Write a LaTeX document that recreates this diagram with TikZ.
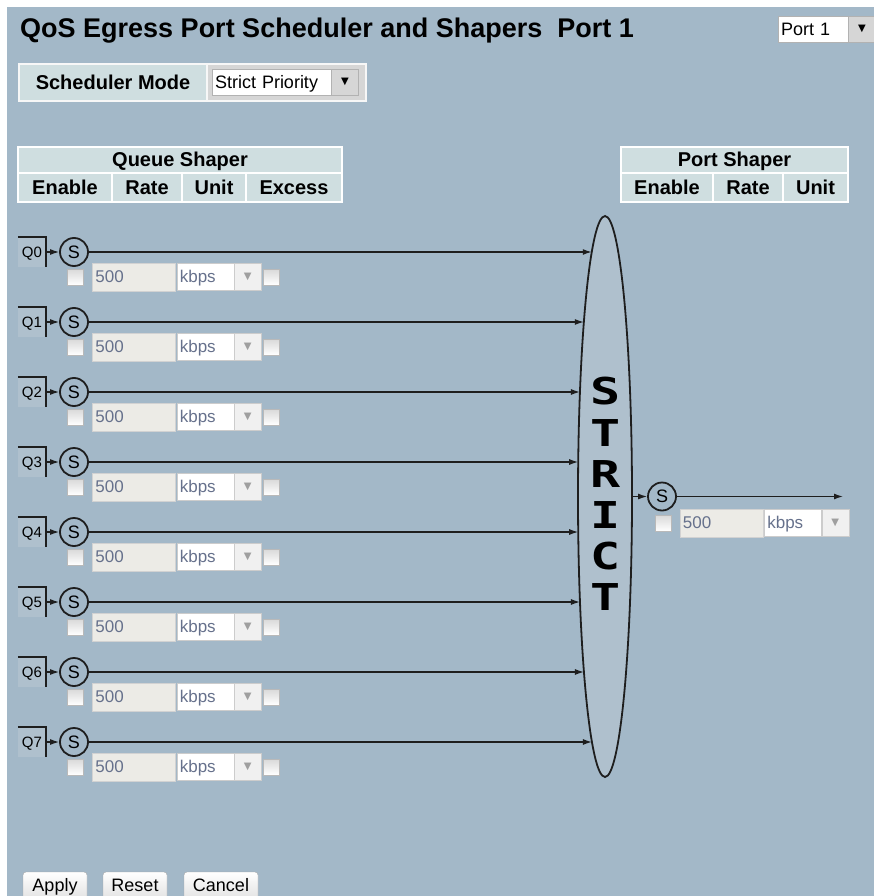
\documentclass[tikz,border=0pt]{standalone}
\usepackage{graphicx}
\usepackage{fontspec}
\setmainfont{Liberation Sans}
\newfontfamily\symfont{DejaVu Sans}
\newfontfamily\strictfont{DejaVu Sans Mono}
\usetikzlibrary{shapes.geometric}
\usetikzlibrary{arrows.meta}
\usetikzlibrary{positioning}

\definecolor{pagebg}{HTML}{A3B8C8}
\definecolor{ellfill}{HTML}{AFC0CD}
\definecolor{cellbg}{HTML}{CFDEE0}
\definecolor{selcell}{HTML}{D6D6D6}
\definecolor{ratefill}{HTML}{ECEBE6}
\definecolor{dimtext}{HTML}{66718C}
\definecolor{wire}{HTML}{1E1E1E}

\begin{document}
\begin{tikzpicture}[
    x=1pt, y=-1pt,
    font=\fontsize{17}{20}\selectfont,
    >={Latex[length=9pt,width=6pt]}
]
\tikzset{
    headtext/.style = {anchor=base, font=\fontsize{20}{24}\selectfont\bfseries},
    cellrule/.style = {draw=white, line width=1.5pt},
    qbox/.style = {rectangle, fill=ellfill, minimum width=28pt, minimum height=30pt, inner sep=0pt, text height=11pt, text depth=0pt, font=\fontsize{15}{18}\selectfont},
    qedge/.style = {draw=wire, line width=1.6pt},
    shaper/.style = {circle, draw=wire, line width=1.8pt, minimum size=28pt, inner sep=0pt, font=\fontsize{18}{20}\selectfont},
    smallarrow/.style = {->, draw=wire, line width=1.2pt},
    qarrow/.style = {->, draw=wire, line width=1.3pt},
    schedell/.style = {ellipse, draw=wire, line width=1.8pt, fill=ellfill, minimum width=54pt, minimum height=561pt, inner sep=0pt},
    strictletter/.style = {font=\strictfont\bfseries\fontsize{37}{37}\selectfont, inner sep=0pt},
    chkbox/.style = {rectangle, draw=gray!55, top color=gray!30, bottom color=white, minimum size=16pt, inner sep=0pt},
    ratebox/.style = {rectangle, draw=gray!35, fill=ratefill, minimum height=28pt, text width=77pt, inner sep=3pt, text height=13pt, text depth=2pt, align=left, text=dimtext},
    unitbox/.style = {rectangle, draw=gray!40, fill=white, minimum height=27pt, text width=51pt, inner sep=3pt, text height=13pt, text depth=2pt, align=left, text=dimtext},
    dropbtn/.style = {rectangle, draw=gray!40, fill=gray!12, minimum width=27pt, minimum height=27pt, inner sep=0pt, text=gray!75, font=\symfont\fontsize{10}{10}\selectfont},
    selbox/.style = {rectangle, draw=gray!60, fill=white, minimum height=26pt, inner sep=3pt, text height=15pt, text depth=2pt, align=left, font=\fontsize{18}{20}\selectfont},
    selbtn/.style = {rectangle, draw=gray!60, fill=selcell, minimum width=27pt, minimum height=26pt, inner sep=0pt, font=\symfont\fontsize{10}{10}\selectfont},
    button/.style = {rectangle, rounded corners=3pt, draw=gray!70, top color=white, bottom color=gray!25, minimum height=30pt, text height=13pt, text depth=4pt, inner sep=0pt, font=\fontsize{18}{20}\selectfont}
}
\useasboundingbox (0,0) rectangle (874,896);
\fill[white] (0,0) rectangle (874,896);
\fill[pagebg] (7,7) rectangle (874,896);

% title and port select
\node[anchor=base west, inner sep=0pt, font=\fontsize{27}{30}\selectfont\bfseries] (title) at (20,38) {QoS Egress Port Scheduler and Shapers\ \ Port 1};
\node[selbox, text width=64pt] (portsel) at (813,29) {Port 1};
\node[selbtn, right=0pt of portsel] (portbtn) {▼};

% scheduler mode
\fill[white!94!gray] (18,63) rectangle (367,102);
\fill[cellbg] (20,65) rectangle (206,100);
\fill[selcell] (208,65) rectangle (365,100);
\node[headtext] (modelabel) at (113,89.5) {Scheduler Mode};
\node[selbox, text width=113pt] (mode) at (271.5,82) {Strict Priority};
\node[selbtn, right=0pt of mode] (modebtn) {▼};

% queue shaper table
\fill[cellbg] (18,147) rectangle (342,202);
\draw[cellrule] (18,147) rectangle (342,202);
\draw[cellrule] (18,173) -- (342,173);
\foreach \x in {112,182,246}
    \draw[cellrule] (\x,173) -- (\x,202);
\node[headtext] (qshaper) at (180,167) {Queue Shaper};
\node[headtext] (qenable) at (65,194) {Enable};
\node[headtext] (qrate) at (147,194) {Rate};
\node[headtext] (qunit) at (214,194) {Unit};
\node[headtext] (qexcess) at (294,194) {Excess};

% port shaper table
\fill[cellbg] (621,147) rectangle (848,202);
\draw[cellrule] (621,147) rectangle (848,202);
\draw[cellrule] (621,173) -- (848,173);
\foreach \x in {713,783}
    \draw[cellrule] (\x,173) -- (\x,202);
\node[headtext] (pshaper) at (734.5,167) {Port Shaper};
\node[headtext] (penable) at (667,194) {Enable};
\node[headtext] (pshrate) at (748,194) {Rate};
\node[headtext] (pshunit) at (815.5,194) {Unit};

% scheduler
\node[schedell] (strict) at (605,496.5) {};
\foreach \ch [count=\k] in {S,T,R,I,C,T}
    \node[strictletter] (l\k) at (605.5,{350.3+41.2*\k}) {\scalebox{1.35}[1]{\ch}};

% queues
\foreach \q in {0,...,7}{
    \pgfmathsetmacro{\yq}{252+70*\q}
    \pgfmathsetmacro{\xe}{605-27*sqrt(1-((\yq-496.5)/280.5)^2)}
    \node[qbox] (q\q) at (32,\yq) {Q\q};
    \draw[qedge] (q\q.north west) -- (q\q.north east) -- (q\q.south east);
    \node[shaper] (s\q) at (74,\yq) {S};
    \draw[smallarrow] (q\q) -- (s\q);
    \coordinate (e\q) at (\xe,\yq);
    \draw[qarrow] (s\q) -- (e\q);
    \node[chkbox] (en\q) at (75,\yq+25) {};
    \node[ratebox, right=9pt of en\q] (rate\q) {500};
    \node[unitbox, right=1pt of rate\q] (unit\q) {kbps};
    \node[dropbtn, right=0pt of unit\q] (btn\q) {▼};
    \node[chkbox, right=2pt of btn\q] (ex\q) {};
}

% port shaper
\node[shaper] (ps) at (662,496.5) {S};
\draw[smallarrow] (strict) -- (ps);
\coordinate (pout) at (843,496.5);
\draw[qarrow] (ps) -- (pout);
\node[chkbox] (pen) at (663.5,523) {};
\node[ratebox, right=8pt of pen] (prate) {500};
\node[unitbox, right=1pt of prate] (punit) {kbps};
\node[dropbtn, right=0pt of punit] (pbtn) {▼};

% buttons
\node[button, minimum width=64pt] (apply) at (55,887) {Apply};
\node[button, minimum width=64pt] (reset) at (135,887) {Reset};
\node[button, minimum width=74pt] (cancel) at (221,887) {Cancel};
\end{tikzpicture}
\end{document}
